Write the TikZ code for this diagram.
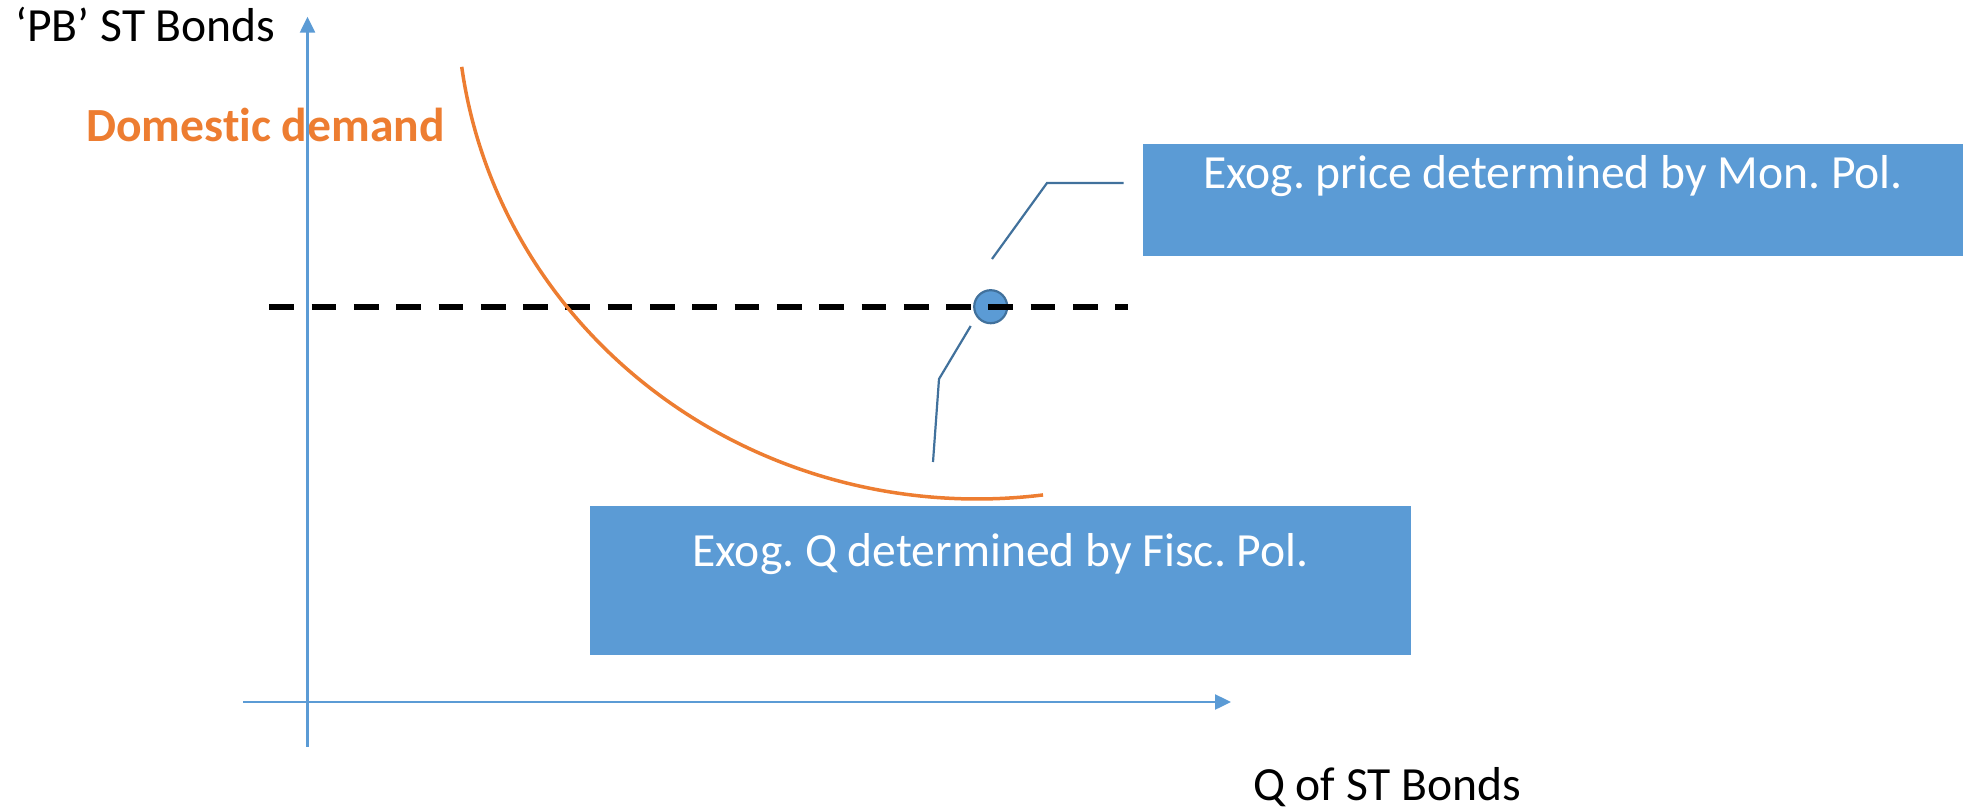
\documentclass[tikz,border=0pt]{standalone}
\usepackage{fontspec}
\setmainfont{Carlito}[Ligatures=NoCommon]
\frenchspacing
\usetikzlibrary{arrows.meta}
\definecolor{accentblue}{HTML}{5B9BD5}
\definecolor{darkblue}{HTML}{41719C}
\definecolor{accentorange}{HTML}{ED7D31}
\begin{document}
\begin{tikzpicture}[x=0.5pt,y=-0.5pt,
  axis/.style={draw=accentblue, line width=1.2pt, -{Triangle[length=8pt,width=7.5pt]}},
  callout/.style={draw=darkblue, line width=1.1pt},
  infobox/.style={fill=accentblue, draw=none, inner sep=0, anchor=north west},
  boxtext/.style={text=white, font=\fontsize{23.8}{28}\selectfont, inner sep=0, anchor=base},
  plainlabel/.style={inner sep=0, anchor=base west, font=\fontsize{23.8}{28}\selectfont},
  pricelevel/.style={black, line width=3.2pt, dash pattern=on 12.35pt off 8.8pt},
  demand/.style={draw=accentorange, line width=1.75pt}]
\useasboundingbox (0,0) rectangle (1964,808);

% information boxes
\node[infobox, minimum width=410pt, minimum height=56pt] (pricebox) at (1143,144) {};
\node[infobox, minimum width=410.5pt, minimum height=74.5pt] (qbox) at (590,506) {};
\node[boxtext] (pricetext) at (1553,188.3) {Exog. price determined by Mon. Pol.};
\node[boxtext] (qtext) at (1000.5,566) {Exog. Q determined by Fisc. Pol.};

% axis labels
\node[plainlabel] (ylab) at (15,42) {‘PB’ ST Bonds};
\node[plainlabel] (xlab) at (1252.7,800) {Q of ST Bonds};
\node[plainlabel, font=\fontsize{23.8}{28}\selectfont\bfseries, text=accentorange] (ddlab) at (86,141) {Domestic demand};

% axes
\coordinate (yfoot) at (307.5,746.7);
\coordinate (ytip) at (307.5,16.7);
\coordinate (xfoot) at (243,702);
\coordinate (xtip) at (1231,702);
\draw[axis] (yfoot) -- (ytip);
\draw[axis] (xfoot) -- (xtip);

% equilibrium point and exogenous price level
\node[circle, fill=accentblue, draw=darkblue, line width=1.1pt, minimum size=16.5pt, inner sep=0] (eq) at (990.7,306.7) {};
\coordinate (pl) at (269.3,307);
\coordinate (pr) at (1128.3,307);
\draw[pricelevel] (pl) -- (pr);

% domestic demand curve
\draw[demand] plot[domain=172.3:82.7, samples=90, smooth] ({977+520*cos(\x)},{499*sin(\x)});

% callout leaders
\coordinate (ca1) at (992,259);
\coordinate (ca2) at (1047,183);
\coordinate (ca3) at (1123.6,183);
\draw[callout] (ca1) -- (ca2) -- (ca3);
\coordinate (cb1) at (970.7,326);
\coordinate (cb2) at (939,379);
\coordinate (cb3) at (933,462);
\draw[callout] (cb1) -- (cb2) -- (cb3);
\end{tikzpicture}
\end{document}
